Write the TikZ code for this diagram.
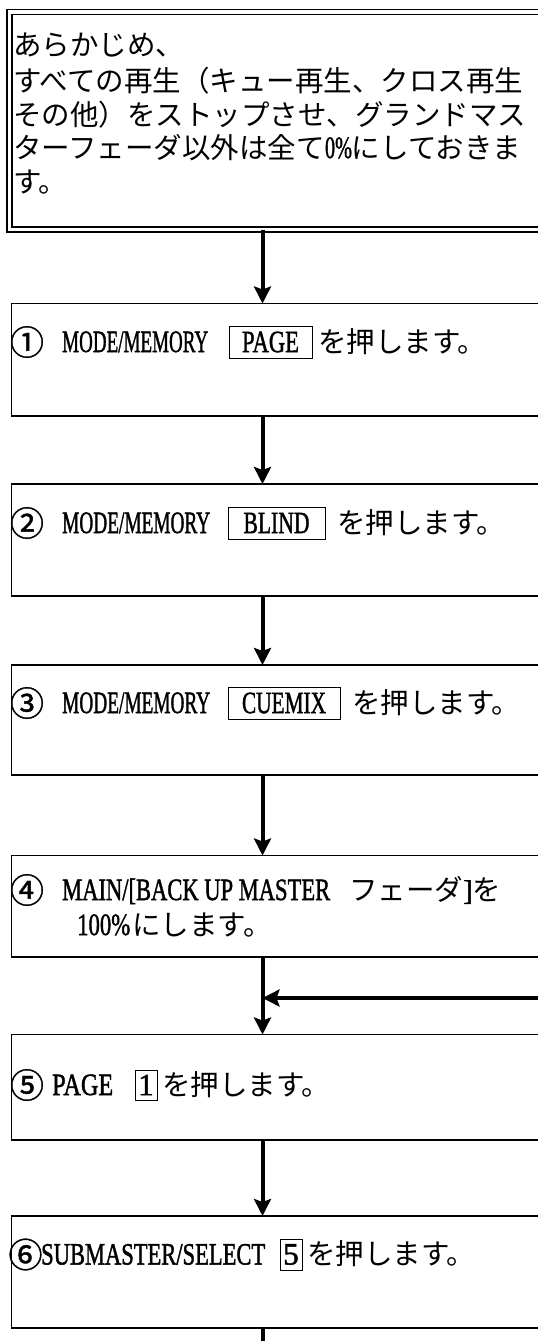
\documentclass[tikz,border=0pt]{standalone}
\usepackage{fontspec}
\usepackage{graphicx}
\setmainfont{Liberation Serif}
\newfontfamily\jpfont{Noto Sans CJK JP}
\newfontfamily\circfont[FakeBold=1.2]{Noto Sans CJK JP}
\newfontfamily\latfont[FakeBold=1.6]{Liberation Serif}
\usetikzlibrary{arrows.meta}
\newcommand\hwt[2]{\resizebox{#1pt}{\height}{\latfont\fontsize{31}{34}\selectfont #2}}
\begin{document}
\begin{tikzpicture}[x=1pt,y=-1pt,
  box/.style={draw, line width=1.6pt, inner sep=0pt, outer sep=0pt, minimum width=545pt, anchor=north west},
  keybox/.style={draw, line width=0.9pt, inner sep=0pt, outer sep=0pt, minimum height=32pt},
  txt/.style={anchor=base west, inner sep=0pt, font=\jpfont\fontsize{28.5}{34}\selectfont},
  circ/.style={anchor=center, inner sep=0pt, font=\circfont\fontsize{34}{40}\selectfont},
  conn/.style={line width=4pt},
  arr/.style={line width=4pt, -{Stealth[length=17pt,width=17pt,inset=3pt]}}]
\useasboundingbox (0,0) rectangle (538,1341);
\fill[white] (0,0) rectangle (538,1341);
% boxes
\node[box, double, double distance=3.5pt, line width=1.5pt, minimum height=217.5pt] (b0) at (9.5,12) {};
\node[box, minimum height=112.5pt] (b1) at (11.5,303.5) {};
\node[box, minimum height=112pt] (b2) at (11.5,484) {};
\node[box, minimum height=110pt] (b3) at (11.5,665) {};
\node[box, minimum height=101.5pt] (b4) at (11.5,855.5) {};
\node[box, minimum height=105.5pt] (b5) at (11.5,1034.5) {};
\node[box, minimum height=112pt] (b6) at (11.5,1216) {};
% box 0 text
\node[txt] (t0a) at (13,55) {あらかじめ、};
\node[txt] (t0b) at (13,91) {すべての再生（キュー再生、クロス再生};
\node[txt] (t0c) at (13,125) {その他）をストップさせ、グランドマス};
\node[txt] (t0d) at (13,158) {ターフェーダ以外は全て\hwt{27}{0\%}にしておきま};
\node[txt] (t0e) at (13,192) {す。};
% box 1
\node[circ] (t1a) at (27,342) {①};
\node[txt] (t1b) at (62,352) {\hwt{146}{MODE/MEMORY}};
\node[keybox, minimum width=83pt] (k1) at (270.5,342) {\hwt{57}{PAGE}};
\node[txt] (t1c) at (318,352) {を押します。};
% box 2
\node[circ] (t2a) at (27,523) {②};
\node[txt] (t2b) at (62,533) {\hwt{148}{MODE/MEMORY}};
\node[keybox, minimum width=97pt] (k2) at (276.5,523) {\hwt{66}{BLIND}};
\node[txt] (t2c) at (337,533) {を押します。};
% box 3
\node[circ] (t3a) at (27,703) {③};
\node[txt] (t3b) at (62,713) {\hwt{148}{MODE/MEMORY}};
\node[keybox, minimum width=112pt] (k3) at (284,703) {\hwt{84}{CUEMIX}};
\node[txt] (t3c) at (352,713) {を押します。};
% box 4
\node[circ] (t4a) at (27,890) {④};
\node[txt] (t4b) at (62,900) {\hwt{268}{MAIN/[BACK UP MASTER}};
\node[txt] (t4c) at (349,900) {フェーダ{\latfont ]}を};
\node[txt] (t4d) at (77,935) {\hwt{53}{100\%}};
\node[txt] (t4e) at (132,935) {にします。};
% box 5
\node[circ] (t5a) at (27,1085) {⑤};
\node[txt] (t5b) at (52,1095) {\hwt{61}{PAGE}};
\node[keybox, minimum width=22pt, minimum height=30pt] (k5) at (146,1085) {\latfont\fontsize{31}{34}\selectfont 1};
\node[txt] (t5c) at (162,1095) {を押します。};
% box 6
\node[circ] (t6a) at (25.5,1254.5) {⑥};
\node[txt] (t6b) at (41,1264.5) {\hwt{224}{SUBMASTER/SELECT}};
\node[keybox, minimum width=22pt, minimum height=31pt] (k6) at (291,1254.5) {\latfont\fontsize{31}{34}\selectfont 5};
\node[txt] (t6c) at (307,1264.5) {を押します。};
% connectors
\coordinate (ax) at (262.5,0);
\coordinate (fb) at (545,998);
\coordinate (bend) at (262.5,1350);
\draw[arr] (b0.south -| ax) -- (b1.north -| ax);
\draw[arr] (b1.south -| ax) -- (b2.north -| ax);
\draw[arr] (b2.south -| ax) -- (b3.north -| ax);
\draw[arr] (b3.south -| ax) -- (b4.north -| ax);
\draw[arr] (b4.south -| ax) -- (b5.north -| ax);
\draw[arr] (fb) -- (fb -| ax);
\draw[arr] (b5.south -| ax) -- (b6.north -| ax);
\draw[conn] (b6.south -| ax) -- (bend);
\end{tikzpicture}
\end{document}
